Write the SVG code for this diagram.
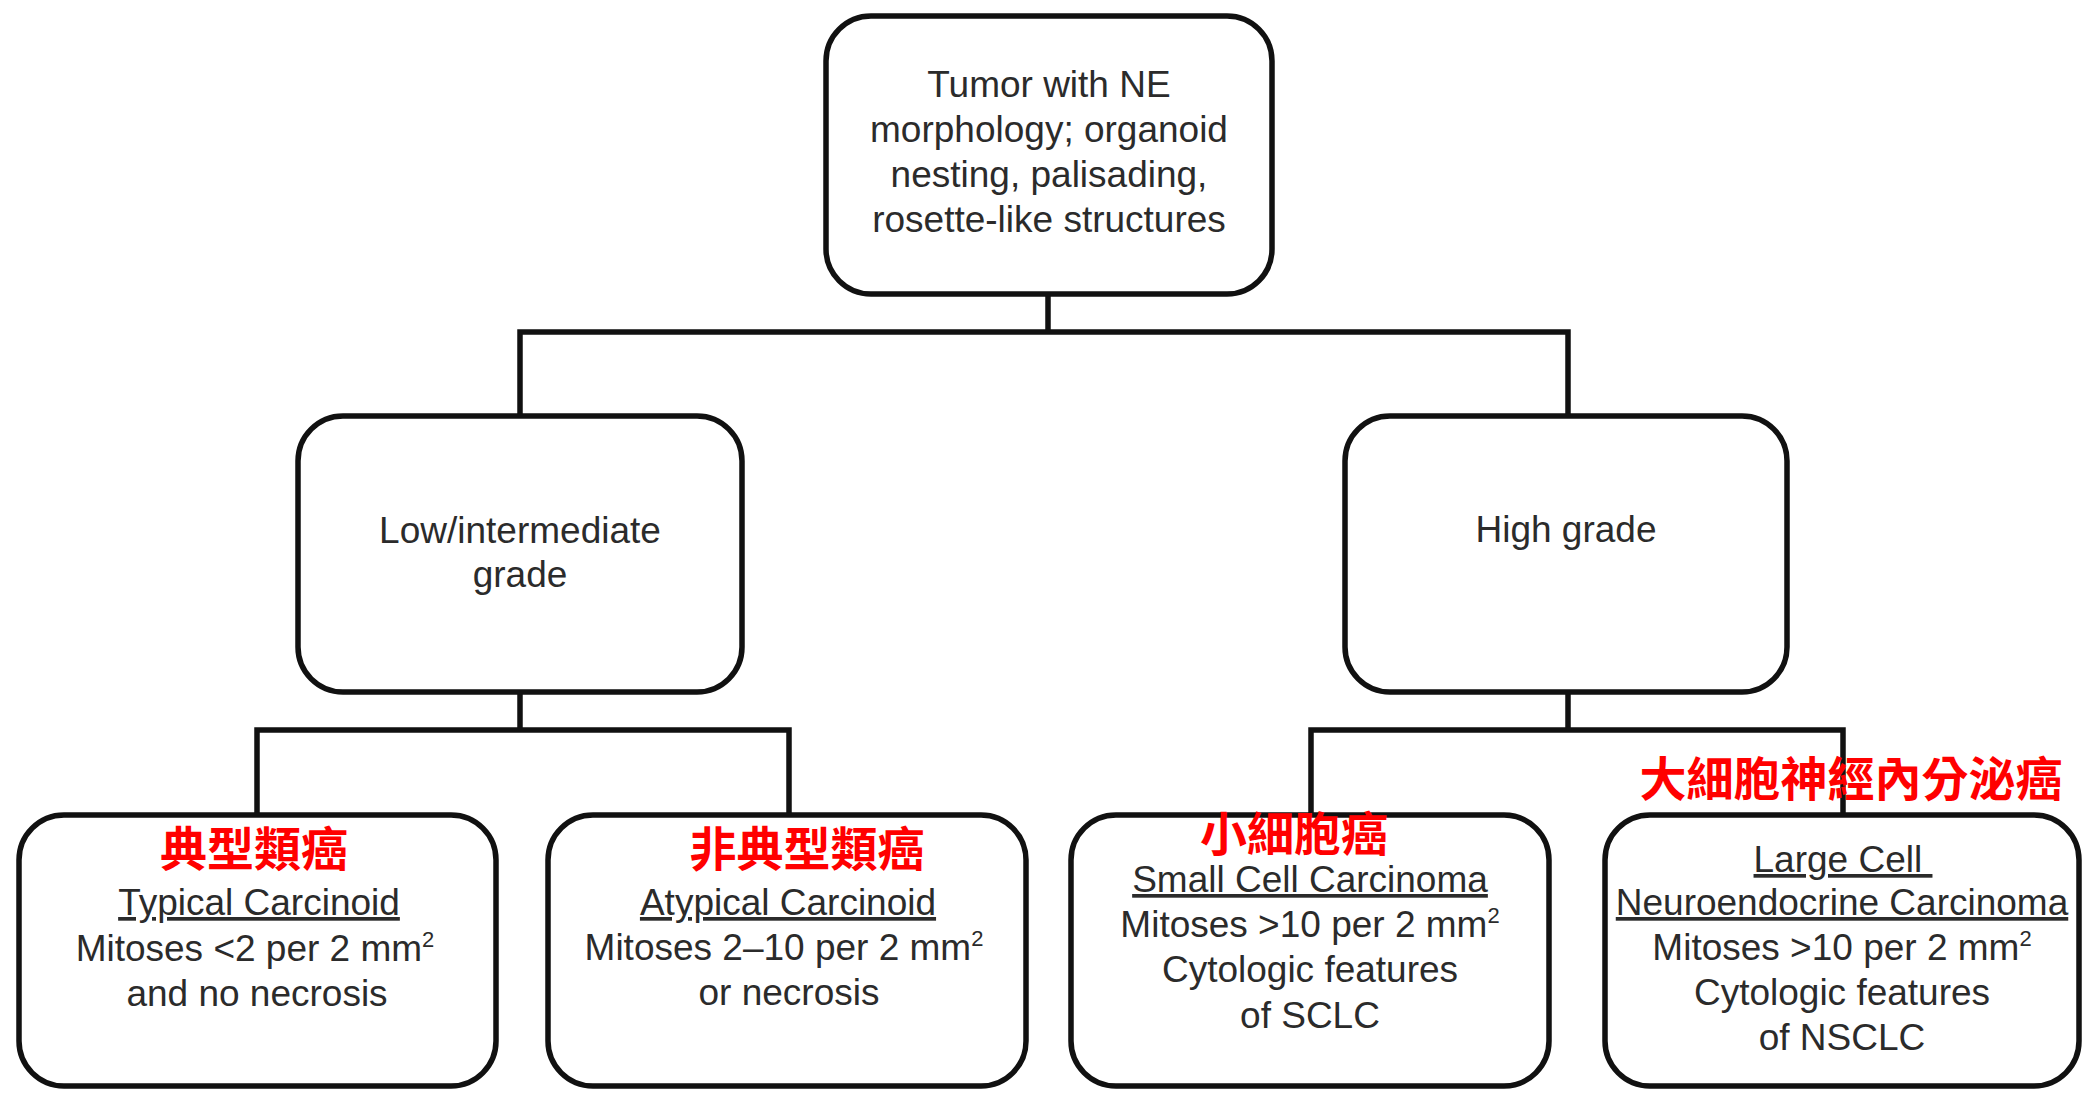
<svg xmlns="http://www.w3.org/2000/svg" width="2084" height="1093" viewBox="0 0 2084 1093">
<style>
  .box { fill: #ffffff; stroke: #111111; stroke-width: 5.5; }
  .conn { fill: none; stroke: #111111; stroke-width: 5.5; stroke-linecap: square; }
  .t { font-family: "Liberation Sans", Arial, sans-serif; font-size: 37px; fill: #2b2b2b; text-anchor: middle; }
  .u { text-decoration: underline; }
  .sup { font-size: 22px; }
  .zh { font-family: "Noto Sans CJK TC", "Noto Sans CJK SC", sans-serif; font-weight: bold; font-size: 47px; fill: #ff0000; text-anchor: middle; }
</style>
<rect x="0" y="0" width="2084" height="1093" fill="#ffffff"/>

<g id="connectors">
  <path class="conn" d="M1048 295 V332 M520 332 H1568 M520 332 V416 M1568 332 V416"/>
  <path class="conn" d="M520 694 V730 M257 730 H789 M257 730 V815 M789 730 V815"/>
  <path class="conn" d="M1568 694 V730 M1311 730 H1843 M1311 730 V815 M1843 730 V815"/>
</g>

<g id="node-root">
  <rect class="box" x="826" y="16" width="446" height="278" rx="45" ry="45"/>
  <text class="t" x="1049" y="97">Tumor with NE</text>
  <text class="t" x="1049" y="142">morphology; organoid</text>
  <text class="t" x="1049" y="187">nesting, palisading,</text>
  <text class="t" x="1049" y="232">rosette-like structures</text>
</g>

<g id="node-low">
  <rect class="box" x="298" y="416" width="444" height="276" rx="45" ry="45"/>
  <text class="t" x="520" y="543">Low/intermediate</text>
  <text class="t" x="520" y="587">grade</text>
</g>

<g id="node-high">
  <rect class="box" x="1345" y="416" width="442" height="276" rx="45" ry="45"/>
  <text class="t" x="1566" y="542">High grade</text>
</g>

<g id="node-tc">
  <rect class="box" x="19" y="815" width="477" height="271" rx="45" ry="45"/>
  <text class="zh" x="254" y="866">典型類癌</text>
  <text class="t u" x="259" y="915">Typical Carcinoid</text>
  <text class="t" x="255" y="961">Mitoses &lt;2 per 2 mm<tspan class="sup" dy="-14">2</tspan></text>
  <text class="t" x="257" y="1006">and no necrosis</text>
</g>

<g id="node-ac">
  <rect class="box" x="548" y="815" width="478" height="271" rx="45" ry="45"/>
  <text class="zh" x="807" y="866">非典型類癌</text>
  <text class="t u" x="788" y="915">Atypical Carcinoid</text>
  <text class="t" x="784" y="960">Mitoses 2–10 per 2 mm<tspan class="sup" dy="-14">2</tspan></text>
  <text class="t" x="789" y="1005">or necrosis</text>
</g>

<g id="node-sclc">
  <rect class="box" x="1071" y="815" width="478" height="271" rx="45" ry="45"/>
  <text class="zh" x="1294" y="851">小細胞癌</text>
  <text class="t u" x="1310" y="892">Small Cell Carcinoma</text>
  <text class="t" x="1310" y="937">Mitoses &gt;10 per 2 mm<tspan class="sup" dy="-14">2</tspan></text>
  <text class="t" x="1310" y="982">Cytologic features</text>
  <text class="t" x="1310" y="1028">of SCLC</text>
</g>

<g id="node-lcnec">
  <rect class="box" x="1605" y="815" width="474" height="271" rx="45" ry="45"/>
  <text class="zh" x="1851" y="796">大細胞神經內分泌癌</text>
  <text class="t u" x="1843" y="872">Large Cell&#160;</text>
  <text class="t u" x="1842" y="915">Neuroendocrine Carcinoma</text>
  <text class="t" x="1842" y="960">Mitoses &gt;10 per 2 mm<tspan class="sup" dy="-14">2</tspan></text>
  <text class="t" x="1842" y="1005">Cytologic features</text>
  <text class="t" x="1842" y="1050">of NSCLC</text>
</g>
</svg>
